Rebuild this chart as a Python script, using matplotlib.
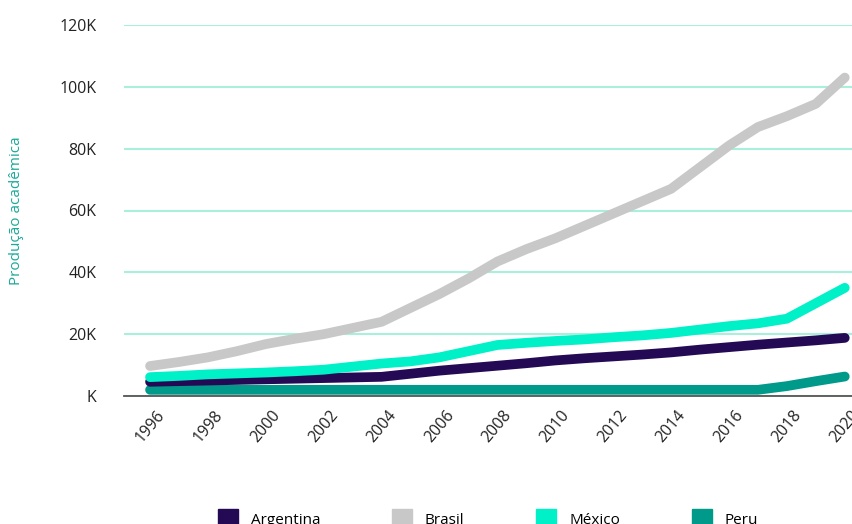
import matplotlib.pyplot as plt
from matplotlib.lines import Line2D
from matplotlib.ticker import FuncFormatter

plt.rcParams['font.family'] = ['Open Sans', 'DejaVu Sans']

# Produção acadêmica por país (milhares de documentos)
years = list(range(1996, 2021))
argentina = [4.6, 4.8, 5.0, 5.2, 5.4, 5.6, 5.8, 6.0, 6.2, 7.2, 8.2, 9.0, 9.8,
             10.6, 11.5, 12.2, 12.8, 13.4, 14.1, 15.0, 15.8, 16.6, 17.3, 18.0, 18.8]
brasil = [9.7, 11.0, 12.5, 14.5, 16.8, 18.5, 20.0, 22.0, 24.0, 28.5, 33.0, 38.0, 43.5,
          47.5, 51.0, 55.0, 59.0, 63.0, 67.0, 74.0, 81.0, 87.0, 90.5, 94.5, 103.0]
mexico = [6.1, 6.5, 7.0, 7.3, 7.6, 8.0, 8.5, 9.5, 10.5, 11.2, 12.5, 14.5, 16.5,
          17.2, 17.8, 18.3, 19.0, 19.6, 20.4, 21.5, 22.6, 23.5, 25.0, 30.0, 35.0]
peru = [2.0] * 22 + [3.2, 4.8, 6.3]

series = ['Argentina', 'Brasil', 'México', 'Peru']
values = [argentina, brasil, mexico, peru]
colors = ['#240a55', '#c8c8c8', '#00f0c8', '#009a8a']

fig = plt.figure(figsize=(8.52, 5.24), dpi=100)
ax = fig.add_axes([124 / 852, 128 / 524, 728 / 852, 371 / 524])

# Peru first so the others sit on top
order = [3, 0, 2, 1]
for i in order:
    ax.plot(years, [v * 1000 for v in values[i]], color=colors[i], lw=7,
            solid_capstyle='round', solid_joinstyle='round', zorder=3, clip_on=False)

ax.set_xlim(1995.1, 2020.25)
ax.set_ylim(0, 120000)
ax.set_yticks(range(0, 120001, 20000))
ax.yaxis.set_major_formatter(FuncFormatter(lambda v, p: 'K' if v == 0 else f'{int(v / 1000)}K'))
ax.set_xticks(range(1996, 2021, 2))
ax.tick_params(axis='y', length=0, pad=20, labelsize=11.5, labelcolor='#222222')
ax.tick_params(axis='x', length=0, pad=8, labelsize=11.5, labelcolor='#222222', labelrotation=50)

ax.grid(axis='y', color='#a8f0dc', lw=1.5)
ax.set_axisbelow(True)
for s in ['top', 'right', 'left']:
    ax.spines[s].set_visible(False)
ax.spines['bottom'].set_color('#555555')
ax.spines['bottom'].set_linewidth(1.3)
ax.spines['bottom'].set_zorder(2)

ax.set_ylabel('Produção acadêmica', color='#1aa99a', fontsize=11)
ax.yaxis.set_label_coords(-0.138, 0.5)

handles = [Line2D([], [], ls='', marker='s', markersize=14, color=c) for c in colors]
fig.legend(handles, series, loc='center', ncol=4, frameon=False, fontsize=11,
           bbox_to_anchor=(0.573, 0.006), columnspacing=4.75, handletextpad=0.9,
           handlelength=1.2)

fig.savefig('out.png', dpi=100)
